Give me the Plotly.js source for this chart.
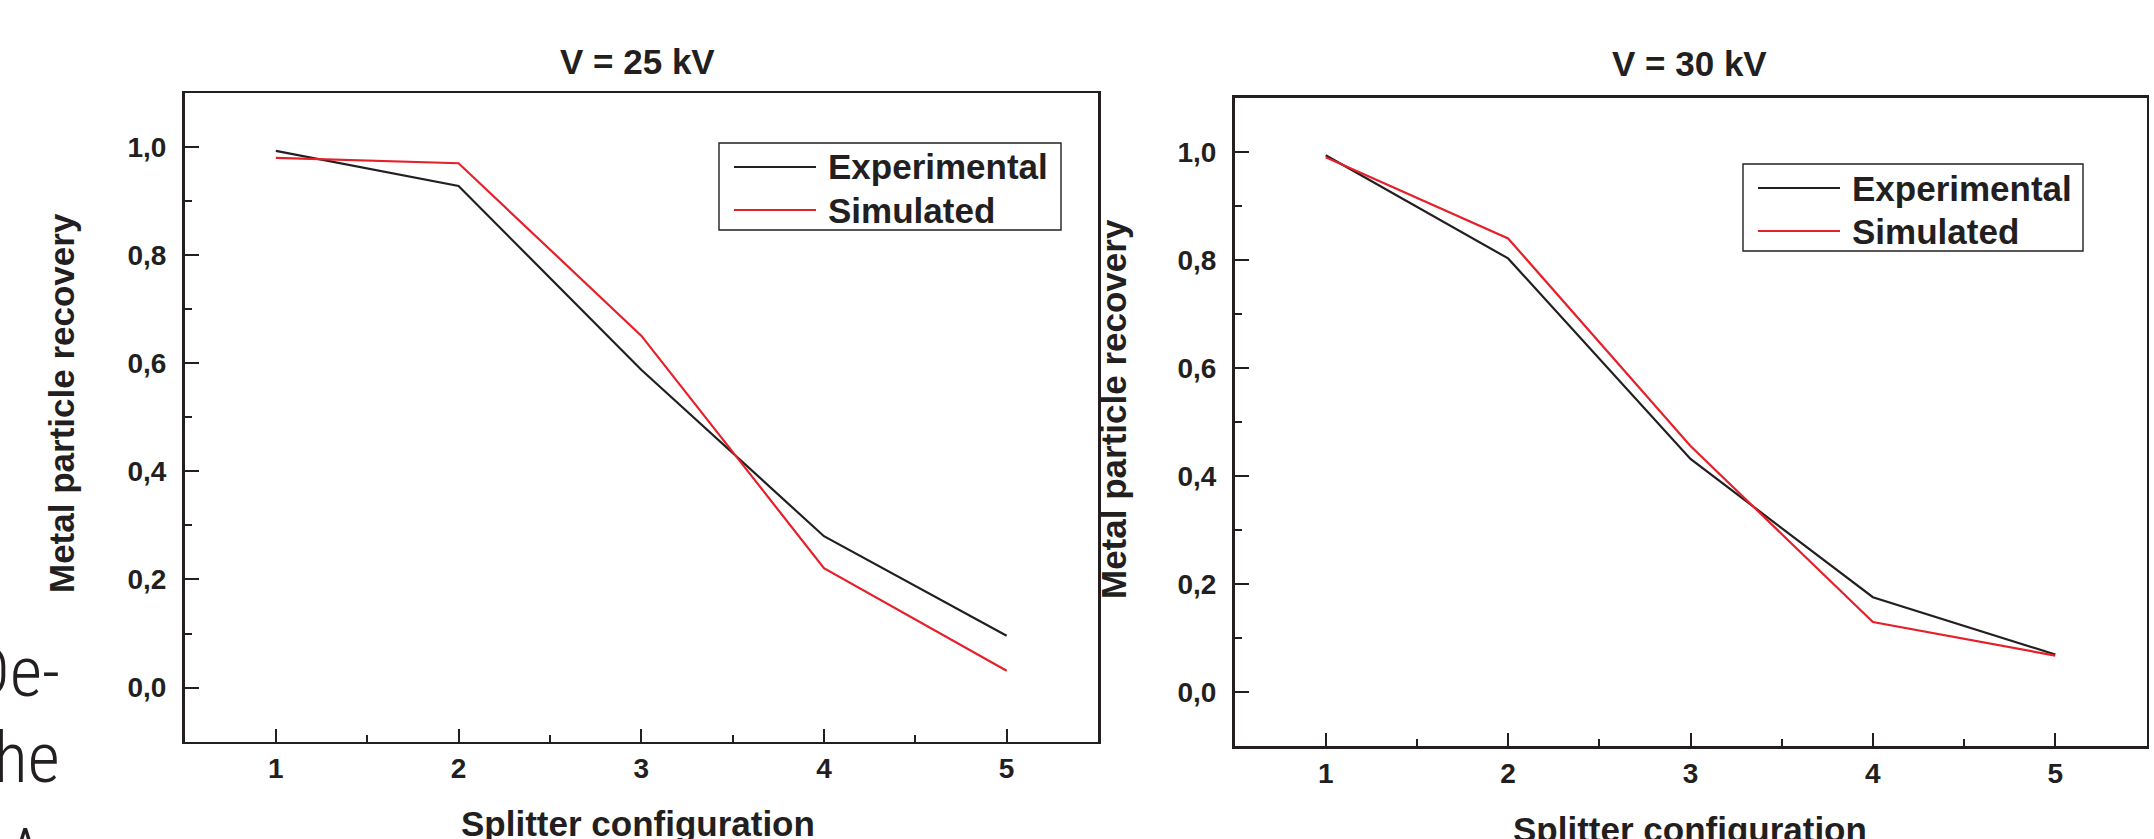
<!DOCTYPE html>
<html>
<head>
<meta charset="utf-8">
<script src="https://cdn.plot.ly/plotly-3.0.1.min.js"></script>
<style>
  html, body { margin: 0; padding: 0; background: #ffffff; }
  #chart { width: 2154px; height: 839px; }
</style>
</head>
<body>
<div id="chart"></div>
<script>
// ---- data ----
const configs = [1, 2, 3, 4, 5];
const exp25 = [0.993, 0.928, 0.588, 0.280, 0.096];
const sim25 = [0.980, 0.970, 0.651, 0.221, 0.031];
const exp30 = [0.994, 0.803, 0.432, 0.176, 0.070];
const sim30 = [0.990, 0.840, 0.456, 0.130, 0.068];

const xTickVals = [1, 2, 3, 4, 5];
const xTickText = ['1', '2', '3', '4', '5'];
const yTickVals = [0, 0.2, 0.4, 0.6, 0.8, 1.0];
const yTickText = ['0,0', '0,2', '0,4', '0,6', '0,8', '1,0'];

const seriesNames = ['Experimental', 'Simulated'];
const panelTitles = ['V = 25 kV', 'V = 30 kV'];
const xTitle = 'Splitter configuration';
const yTitle = 'Metal particle recovery';
const pageFragments = ['De-', 'he', 'A'];

// ---- styles ----
const INK = '#231f20';
const RED = '#e5202a';
const FONT = 'Liberation Sans, Arial, Helvetica, sans-serif';
const W = 2154, H = 839;
const px = v => v / W;
const py = v => 1 - v / H;

function lineTrace(x, y, color, xa, ya, name) {
  return { type: 'scatter', mode: 'lines', x: x, y: y, name: name,
    xaxis: xa, yaxis: ya, showlegend: false,
    line: { color: color, width: 2.2 }, hoverinfo: 'x+y' };
}

const traces = [
  lineTrace(configs, exp25, INK, 'x', 'y', seriesNames[0]),
  lineTrace(configs, sim25, RED, 'x', 'y', seriesNames[1]),
  lineTrace(configs, exp30, INK, 'x2', 'y2', seriesNames[0]),
  lineTrace(configs, sim30, RED, 'x2', 'y2', seriesNames[1])
];

function xAxis(domain, anchor) {
  return {
    domain: domain, anchor: anchor, range: [0.5, 5.5],
    tickmode: 'array', tickvals: xTickVals, ticktext: xTickText,
    ticks: 'inside', ticklen: 13, tickwidth: 2, tickcolor: INK,
    minor: { dtick: 0.5, tick0: 0.5, ticks: 'inside', ticklen: 7, tickwidth: 2, tickcolor: INK, showgrid: false },
    showline: true, linewidth: 2.5, linecolor: INK, mirror: true,
    showgrid: false, zeroline: false, fixedrange: true,
    ticklabelstandoff: 0,
    tickfont: { family: FONT, size: 28, color: INK, weight: 'bold' }
  };
}
function yAxis(domain, anchor) {
  return {
    domain: domain, anchor: anchor, range: [-0.1, 1.1],
    tickmode: 'array', tickvals: yTickVals, ticktext: yTickText,
    ticks: 'inside', ticklen: 14, tickwidth: 2, tickcolor: INK,
    minor: { dtick: 0.1, tick0: 0, ticks: 'inside', ticklen: 7, tickwidth: 2, tickcolor: INK, showgrid: false },
    showline: true, linewidth: 2.5, linecolor: INK, mirror: true,
    showgrid: false, zeroline: false, fixedrange: true,
    ticklabelstandoff: 10,
    tickfont: { family: FONT, size: 28, color: INK, weight: 'bold' }
  };
}

// legend geometry (pixels in the page)
const legends = [
  { box: [719, 143, 1061, 230], line: [734, 816], rows: [167, 210], textX: 826 },
  { box: [1743, 164, 2083, 251], line: [1758, 1840], rows: [188, 231], textX: 1850 }
];
const legendColors = [INK, RED];

const shapes = [];
const annotations = [];
legends.forEach(lg => {
  shapes.push({ type: 'rect', xref: 'paper', yref: 'paper',
    x0: px(lg.box[0]), x1: px(lg.box[2]), y0: py(lg.box[3]), y1: py(lg.box[1]),
    line: { color: INK, width: 1.4 }, fillcolor: 'rgba(0,0,0,0)' });
  lg.rows.forEach((ry, i) => {
    shapes.push({ type: 'line', xref: 'paper', yref: 'paper',
      x0: px(lg.line[0]), x1: px(lg.line[1]), y0: py(ry), y1: py(ry),
      line: { color: legendColors[i], width: 2.2 } });
    annotations.push({ xref: 'paper', yref: 'paper', x: px(lg.textX), y: py(ry),
      xanchor: 'left', yanchor: 'middle', showarrow: false, text: seriesNames[i],
      font: { family: FONT, size: 35, color: INK, weight: 'bold' } });
  });
});

// panel titles
[[637.5, 61], [1689, 63]].forEach((p, i) => {
  annotations.push({ xref: 'paper', yref: 'paper', x: px(p[0]), y: py(p[1]),
    xanchor: 'center', yanchor: 'middle', showarrow: false, text: panelTitles[i],
    font: { family: FONT, size: 35, color: INK, weight: 'bold' } });
});
// x axis titles
[[637.5, 823], [1690, 829]].forEach(p => {
  annotations.push({ xref: 'paper', yref: 'paper', x: px(p[0]), y: py(p[1]),
    xanchor: 'center', yanchor: 'middle', showarrow: false, text: xTitle,
    font: { family: FONT, size: 35, color: INK, weight: 'bold' } });
});
// y axis titles
[[62, 403], [1114, 409]].forEach(p => {
  annotations.push({ xref: 'paper', yref: 'paper', x: px(p[0]), y: py(p[1]),
    xanchor: 'center', yanchor: 'middle', showarrow: false, text: yTitle, textangle: -90,
    font: { family: FONT, size: 35, color: INK, weight: 'bold' } });
});
// cut-off body text at the page's left edge
[[62, 672, 'right'], [62, 758, 'right'], [25, 854, 'center']].forEach((p, i) => {
  annotations.push({ xref: 'paper', yref: 'paper', x: px(p[0]), y: py(p[1]),
    xanchor: p[2], yanchor: 'middle', showarrow: false, text: pageFragments[i],
    font: { family: 'Liberation Sans Narrow, Roboto Condensed, Roboto, sans-serif', size: 70, color: '#231f20', weight: 300 } });
});

const layout = {
  width: W, height: H,
  margin: { l: 0, r: 0, t: 0, b: 0, pad: 0 },
  paper_bgcolor: '#ffffff', plot_bgcolor: '#ffffff',
  showlegend: false,
  xaxis: xAxis([px(184.5), px(1098)], 'y'),
  yaxis: yAxis([py(741.6), py(93)], 'x'),
  xaxis2: xAxis([px(1234.5), px(2146.5)], 'y2'),
  yaxis2: yAxis([py(746.4), py(97.9)], 'x2'),
  shapes: shapes,
  annotations: annotations
};

Plotly.newPlot('chart', traces, layout, { displayModeBar: false, staticPlot: true });
</script>
</body>
</html>
